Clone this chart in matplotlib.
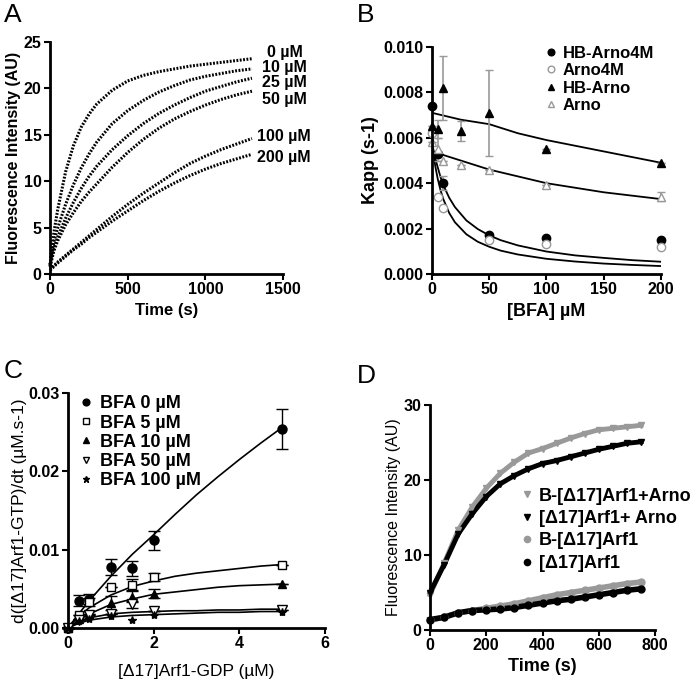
import matplotlib
matplotlib.use("Agg")
import matplotlib.pyplot as plt

plt.rcParams['font.family'] = ['Liberation Sans', 'DejaVu Sans']
plt.rcParams['font.weight'] = 'bold'

# ---- panel A: exchange kinetics at several BFA concentrations
a_time = [0, 25, 50, 100, 150, 200, 250, 300, 400, 500, 600, 700, 800, 900, 1000, 1100, 1200, 1300]
a_curves = {
    '0 µM':   [1.0, 4.5, 7.0, 11.0, 13.8, 15.8, 17.2, 18.3, 19.8, 20.8, 21.4, 21.8, 22.1, 22.4, 22.6, 22.8, 23.0, 23.2],
    '10 µM':  [1.0, 3.5, 5.0, 7.5, 9.6, 11.4, 12.9, 14.2, 16.2, 17.6, 18.7, 19.6, 20.3, 20.9, 21.3, 21.6, 21.9, 22.1],
    '25 µM':  [0.8, 2.8, 4.0, 6.0, 7.7, 9.2, 10.5, 11.6, 13.4, 14.9, 16.2, 17.3, 18.2, 19.0, 19.7, 20.2, 20.7, 21.1],
    '50 µM':  [0.8, 2.5, 3.6, 5.3, 6.6, 7.8, 8.8, 9.7, 11.5, 13.1, 14.5, 15.7, 16.7, 17.5, 18.2, 18.8, 19.3, 19.7],
    '100 µM': [0.5, 0.9, 1.3, 2.0, 2.7, 3.4, 4.1, 4.8, 6.2, 7.5, 8.7, 9.8, 10.9, 11.9, 12.7, 13.4, 14.0, 14.6],
    '200 µM': [0.4, 0.8, 1.2, 1.9, 2.6, 3.2, 3.9, 4.5, 5.7, 6.8, 7.9, 8.9, 9.8, 10.6, 11.3, 11.9, 12.4, 12.9],
}
a_label_pos = {'0 µM': (1400, 23.9), '10 µM': (1365, 22.3), '25 µM': (1365, 20.6),
               '50 µM': (1365, 18.8), '100 µM': (1335, 14.8), '200 µM': (1335, 12.6)}

# ---- panel B: Kapp vs [BFA]
b_x = [0, 5, 10, 25, 50, 100, 200]
b_hb4m_x = [0, 5, 10, 50, 100, 200]
b_hb4m = [0.0074, 0.0053, 0.0040, 0.0017, 0.0016, 0.0015]
b_hb4m_err = [0, 0, 0.0003, 0, 0, 0]
b_4m_x = [0, 5, 10, 50, 100, 200]
b_4m = [0.0062, 0.0034, 0.0029, 0.0015, 0.0013, 0.0012]
b_hb = [0.0065, 0.0064, 0.0082, 0.0063, 0.0071, 0.0055, 0.0049]
b_hb_err = [0, 0.0004, 0.0014, 0.00045, 0.0019, 0, 0]
b_arno = [0.0058, 0.0055, 0.0050, 0.0048, 0.0046, 0.0039, 0.0034]
b_arno_err = [0, 0.0005, 0, 0, 0, 0, 0.0002]
b_fit_x = [0, 1, 2, 3, 5, 7.5, 10, 15, 20, 30, 40, 50, 60, 75, 100, 125, 150, 175, 200]
b_fit_hb4m = [0.0058, 0.00553, 0.0053, 0.00507, 0.0047, 0.00426, 0.0039, 0.00336, 0.00295, 0.00236,
              0.00198, 0.0017, 0.00149, 0.00126, 0.00099, 0.00082, 0.00071, 0.00061, 0.00054]
b_fit_4m = [0.0058, 0.00539, 0.00503, 0.00471, 0.00419, 0.00368, 0.00328, 0.00269, 0.00228, 0.00175,
            0.00142, 0.0012, 0.00103, 0.00086, 0.00067, 0.00055, 0.00046, 0.0004, 0.00035]
b_fit_x2 = [0, 25, 50, 75, 100, 150, 200]
b_fit_hb = [0.0071, 0.0068, 0.0066, 0.0062, 0.0059, 0.0054, 0.0049]
b_fit_arno = [0.0054, 0.0050, 0.0046, 0.0043, 0.0040, 0.0036, 0.0033]

# ---- panel C: rate vs [D17]Arf1-GDP
c_x = [0, 0.25, 0.5, 1, 1.5, 2, 5]
c_bfa0 = [0, 0.0035, 0.0037, 0.0078, 0.0076, 0.0112, 0.0254]
c_bfa0_err = [0, 0.0007, 0.0006, 0.0010, 0.0010, 0.0012, 0.0025]
c_bfa5 = [0, 0.0016, 0.0033, 0.0052, 0.0055, 0.0065, 0.0081]
c_bfa5_err = [0, 0, 0.0005, 0, 0.0007, 0.0005, 0]
c_bfa10 = [0, 0.0012, 0.0018, 0.0032, 0.0040, 0.0044, 0.0056]
c_bfa10_err = [0, 0, 0, 0.0009, 0.0007, 0.0006, 0]
c_bfa50 = [0, 0.0010, 0.0017, 0.0018, 0.0030, 0.0022, 0.0023]
c_bfa50_err = [0, 0, 0, 0, 0.0004, 0, 0]
c_bfa100 = [0, 0.0009, 0.0011, 0.0015, 0.0010, 0.0017, 0.0020]
c_fit_x = [0, 0.25, 0.5, 1, 1.5, 2, 2.5, 3, 3.5, 4, 4.5, 5]
c_fit0 = [0, 0.0018, 0.0035, 0.0066, 0.0094, 0.0119, 0.0145, 0.0170, 0.0193, 0.0215, 0.0236, 0.0256]
c_fit5 = [0, 0.0015, 0.0026, 0.0042, 0.0053, 0.0060, 0.0066, 0.0070, 0.0073, 0.0076, 0.0079, 0.0081]
c_fit10 = [0, 0.0010, 0.0018, 0.0030, 0.0037, 0.0043, 0.0046, 0.0049, 0.0052, 0.0054, 0.0055, 0.0056]
c_fit50 = [0, 0.0008, 0.0013, 0.0018, 0.0020, 0.0021, 0.0022, 0.0022, 0.0023, 0.0023, 0.0024, 0.0024]
c_fit100 = [0, 0.0006, 0.0010, 0.0014, 0.0016, 0.0017, 0.0018, 0.0019, 0.0020, 0.0020, 0.0021, 0.0021]

# ---- panel D: fluorescence traces
d_time = [0, 50, 100, 150, 200, 250, 300, 350, 400, 450, 500, 550, 600, 650, 700, 750]
d_b_arno = [4.7, 8.9, 13.3, 16.4, 18.9, 20.9, 22.4, 23.6, 24.2, 24.9, 25.6, 26.2, 26.7, 26.9, 27.1, 27.3]
d_arno = [5.0, 8.7, 12.8, 15.5, 17.8, 19.5, 20.6, 21.5, 22.2, 22.6, 23.1, 23.6, 24.1, 24.5, 24.9, 25.1]
d_b_arf = [1.3, 1.7, 2.3, 2.6, 2.9, 3.2, 3.5, 3.9, 4.3, 4.7, 5.0, 5.3, 5.6, 5.9, 6.2, 6.4]
d_arf = [1.4, 1.7, 2.3, 2.6, 2.7, 2.8, 3.0, 3.3, 3.6, 3.9, 4.1, 4.4, 4.7, 5.0, 5.3, 5.5]

GRAY = '#999999'
TICK_FS = 11.5


def style_axes(ax):
    for s in ['top', 'right']:
        ax.spines[s].set_visible(False)
    for s in ['left', 'bottom']:
        ax.spines[s].set_linewidth(2)
    ax.tick_params(direction='out', length=4, width=1.5, labelsize=TICK_FS, pad=2)
    for lab in ax.get_xticklabels() + ax.get_yticklabels():
        lab.set_fontweight('bold')


fig = plt.figure(figsize=(6.93, 6.84), dpi=100)

# A
axA = fig.add_axes([0.0722, 0.5994, 0.3362, 0.3392])
for name, vals in a_curves.items():
    axA.plot(a_time, vals, color='black', lw=2.2, ls=(0, (0.6, 0.5)), clip_on=False)
    axA.text(a_label_pos[name][0], a_label_pos[name][1], name, fontsize=11.5, fontweight='bold',
             ha='left', va='center', clip_on=False)
axA.set_xlim(0, 1500)
axA.set_ylim(0, 25)
axA.set_xticks([0, 500, 1000, 1500])
axA.set_yticks([0, 5, 10, 15, 20, 25])
axA.set_xlabel('Time (s)', fontsize=12, fontweight='bold', labelpad=4)
axA.set_ylabel('Fluorescence Intensity (AU)', fontsize=11.5, fontweight='bold', labelpad=2)
style_axes(axA)

# B
axB = fig.add_axes([0.6234, 0.5994, 0.3304, 0.3319])
axB.plot(b_fit_x, b_fit_hb4m, color='black', lw=1.3)
axB.plot(b_fit_x, b_fit_4m, color='black', lw=1.3)
axB.plot(b_fit_x2, b_fit_hb, color='black', lw=1.3)
axB.plot(b_fit_x2, b_fit_arno, color='black', lw=1.3)
axB.errorbar(b_x, b_hb, yerr=b_hb_err, fmt='none', ecolor=GRAY, elinewidth=1.2, capsize=3, clip_on=False)
axB.errorbar(b_x, b_arno, yerr=b_arno_err, fmt='none', ecolor=GRAY, elinewidth=1.2, capsize=3, clip_on=False)
axB.errorbar(b_hb4m_x, b_hb4m, yerr=b_hb4m_err, fmt='none', ecolor=GRAY, elinewidth=1.2, capsize=3, clip_on=False)
axB.plot(b_hb4m_x, b_hb4m, 'o', color='black', ms=6, clip_on=False, label='HB-Arno4M')
axB.plot(b_4m_x, b_4m, 'o', mfc='white', mec=GRAY, ms=6, mew=1, clip_on=False, label='Arno4M')
axB.plot(b_x, b_hb, '^', color='black', ms=6, clip_on=False, label='HB-Arno')
axB.plot(b_x, b_arno, '^', mfc='white', mec=GRAY, ms=6, mew=1, clip_on=False, label='Arno')
axB.set_xlim(0, 200)
axB.set_ylim(0, 0.010)
axB.set_xticks([0, 50, 100, 150, 200])
axB.set_yticks([0, 0.002, 0.004, 0.006, 0.008, 0.010])
axB.set_yticklabels(['0.000', '0.002', '0.004', '0.006', '0.008', '0.010'])
axB.set_xlabel('[BFA] µM', fontsize=13, fontweight='bold', labelpad=4)
axB.set_ylabel('Kapp (s-1)', fontsize=13, fontweight='bold', labelpad=3)
axB.legend(loc='upper left', bbox_to_anchor=(0.47, 1.035), frameon=False,
           handlelength=0.6, handletextpad=0.4, labelspacing=0.15, borderaxespad=0,
           prop={'weight': 'bold', 'size': 12}, markerscale=0.8)
style_axes(axB)

# C
axC = fig.add_axes([0.0981, 0.0819, 0.3709, 0.3436])
for fy in [c_fit0, c_fit5, c_fit10, c_fit50, c_fit100]:
    axC.plot(c_fit_x, fy, color='black', lw=1.2)
for yv, ye in [(c_bfa0, c_bfa0_err), (c_bfa5, c_bfa5_err), (c_bfa10, c_bfa10_err), (c_bfa50, c_bfa50_err)]:
    axC.errorbar(c_x, yv, yerr=ye, fmt='none', ecolor='black', elinewidth=1, capsize=4, clip_on=False)
axC.plot(c_x, c_bfa0, 'o', color='black', ms=6.5, clip_on=False, label='BFA 0 µM')
axC.plot(c_x, c_bfa5, 's', mfc='white', mec='black', ms=6, mew=1, clip_on=False, label='BFA 5 µM')
axC.plot(c_x, c_bfa10, '^', color='black', ms=6, clip_on=False, label='BFA 10 µM')
axC.plot(c_x, c_bfa50, 'v', mfc='white', mec='black', ms=6.5, mew=1, clip_on=False, label='BFA 50 µM')
axC.plot(c_x, c_bfa100, '*', color='black', ms=6, clip_on=False, label='BFA 100 µM')
axC.set_xlim(0, 6)
axC.set_ylim(0, 0.03)
axC.set_xticks([0, 2, 4, 6])
axC.set_yticks([0, 0.01, 0.02, 0.03])
axC.set_yticklabels(['0.00', '0.01', '0.02', '0.03'])
axC.set_xlabel('[Δ17]Arf1-GDP (µM)', fontsize=12.5, fontweight='normal', labelpad=9)
axC.set_ylabel('d([Δ17]Arf1-GTP)/dt (µM.s-1)', fontsize=12.5, fontweight='normal', labelpad=1)
axC.legend(loc='upper left', bbox_to_anchor=(0.02, 1.02), frameon=False,
           handlelength=0.6, handletextpad=0.5, labelspacing=0.12, borderaxespad=0,
           prop={'weight': 'bold', 'size': 13}, markerscale=0.75)
style_axes(axC)

# D
axD = fig.add_axes([0.6205, 0.0789, 0.3247, 0.3289])
axD.plot(d_time, d_b_arno, color=GRAY, lw=3.5, clip_on=False)
axD.plot(d_time, d_arno, color='black', lw=3.5, clip_on=False)
axD.plot(d_time, d_b_arf, color=GRAY, lw=4, clip_on=False)
axD.plot(d_time, d_arf, color='black', lw=4, clip_on=False)
axD.plot(d_time, d_b_arno, 'v', color=GRAY, ms=5, clip_on=False, label='B-[Δ17]Arf1+Arno')
axD.plot(d_time, d_arno, 'v', color='black', ms=5, clip_on=False, label='[Δ17]Arf1+ Arno')
axD.plot(d_time, d_b_arf, 'o', color=GRAY, ms=5, clip_on=False, label='B-[Δ17]Arf1')
axD.plot(d_time, d_arf, 'o', color='black', ms=5, clip_on=False, label='[Δ17]Arf1')
axD.set_xlim(0, 800)
axD.set_ylim(0, 30)
axD.set_xticks([0, 200, 400, 600, 800])
axD.set_yticks([0, 10, 20, 30])
axD.set_xlabel('Time (s)', fontsize=13, fontweight='bold', labelpad=3)
axD.set_ylabel('Fluorescence Intensity (AU)', fontsize=11.5, fontweight='normal', labelpad=2)
axD.legend(loc='upper left', bbox_to_anchor=(0.38, 0.665), frameon=False,
           handlelength=0.5, handletextpad=0.4, labelspacing=0.3, borderaxespad=0,
           prop={'weight': 'bold', 'size': 13}, markerscale=0.9)
style_axes(axD)

# panel letters
for letter, (x, y) in {'A': (0.005, 0.995), 'B': (0.515, 0.995), 'C': (0.005, 0.475), 'D': (0.515, 0.468)}.items():
    fig.text(x, y, letter, fontsize=19, fontweight='normal', ha='left', va='top')

fig.savefig('out.png', dpi=100)
